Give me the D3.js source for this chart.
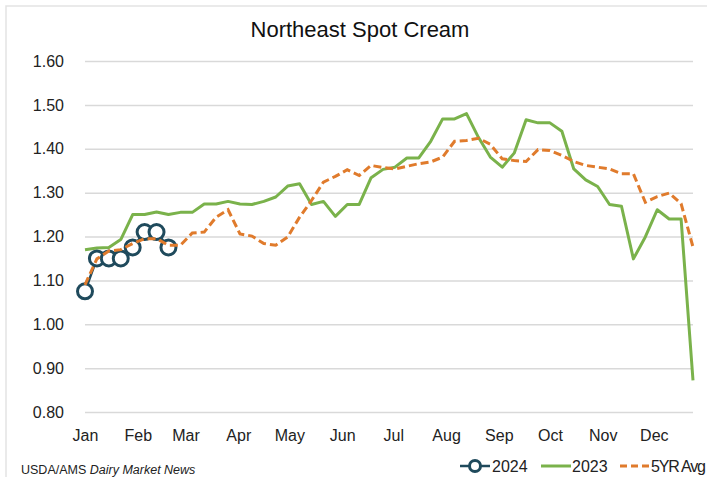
<!DOCTYPE html>
<html>
<head>
<meta charset="utf-8">
<script src="https://cdn.jsdelivr.net/npm/d3@7"></script>
<style>
  body { margin: 0; background: #fff; }
  svg { display: block; font-family: "Liberation Sans", Arial, sans-serif; }
</style>
</head>
<body>
<script>
var width = 707,
    height = 477,
    plotLeft = 85, plotRight = 693,
    plotTop = 61, plotBottom = 412;

// weekly values, week 0 = first week of Jan
var series2024 = [1.075, 1.15, 1.15, 1.15, 1.175, 1.21, 1.21, 1.175];
var series2023 = [1.170, 1.174, 1.175, 1.193, 1.250, 1.250, 1.256, 1.250, 1.255, 1.255,
                  1.274, 1.274, 1.280, 1.274, 1.273, 1.280, 1.290, 1.315, 1.320, 1.273,
                  1.280, 1.246, 1.273, 1.273, 1.334, 1.353, 1.358, 1.379, 1.379, 1.417,
                  1.468, 1.468, 1.480, 1.426, 1.381, 1.358, 1.390, 1.466, 1.459, 1.459,
                  1.440, 1.354, 1.329, 1.314, 1.273, 1.269, 1.149, 1.199, 1.261, 1.240,
                  1.240, 0.872];
var series5yr = [1.090, 1.149, 1.167, 1.170, 1.184, 1.195, 1.195, 1.180, 1.180, 1.208,
                 1.210, 1.244, 1.261, 1.206, 1.201, 1.184, 1.180, 1.199, 1.244, 1.282,
                 1.324, 1.337, 1.352, 1.339, 1.362, 1.357, 1.354, 1.360, 1.366, 1.370,
                 1.381, 1.417, 1.419, 1.424, 1.410, 1.377, 1.373, 1.371, 1.398, 1.396,
                 1.385, 1.371, 1.362, 1.358, 1.354, 1.343, 1.343, 1.278, 1.291, 1.299,
                 1.275, 1.176];
var yTicks = [0.80, 0.90, 1.00, 1.10, 1.20, 1.30, 1.40, 1.50, 1.60];
var legendNames = ["2024", "2023", "5YR Avg"];

var c2024 = "#1f4a5c", c2023 = "#7ab24b", c5yr = "#e07b2c";

var start = new Date(2023, 0, 1);
function weekDate(d, i) { return d3.timeDay.offset(start, 7 * i); }

var x = d3.scaleTime()
    .domain([start, d3.timeDay.offset(start, 7 * 51)])
    .range([plotLeft, plotRight]);

var y = d3.scaleLinear()
    .domain([0.8, 1.6])
    .range([plotBottom, plotTop]);

var svg = d3.select("body").append("svg")
    .attr("width", width)
    .attr("height", height);

// chart frame
svg.append("rect")
    .attr("x", 6).attr("y", 6)
    .attr("width", width + 10).attr("height", height + 10)
    .attr("fill", "none")
    .attr("stroke", "#e3e3e3")
    .attr("stroke-width", 1.5);

svg.append("text")
    .attr("x", 360).attr("y", 37)
    .attr("text-anchor", "middle")
    .attr("font-size", 22)
    .attr("fill", "#111")
    .text("Northeast Spot Cream");

var yAxis = svg.append("g")
    .attr("transform", "translate(" + plotLeft + ",0)")
    .call(d3.axisLeft(y)
        .tickValues(yTicks)
        .tickSize(-(plotRight - plotLeft))
        .tickPadding(21)
        .tickFormat(d3.format(".2f")));
yAxis.select(".domain").remove();
yAxis.selectAll("line").attr("stroke", "#d9d9d9").attr("stroke-width", 1.5);
yAxis.selectAll("text")
    .attr("font-size", 16)
    .attr("fill", "#222")
    .attr("font-family", "Liberation Sans, Arial, sans-serif");

var xAxis = svg.append("g")
    .attr("transform", "translate(0," + plotBottom + ")")
    .call(d3.axisBottom(x)
        .ticks(d3.timeMonth.every(1))
        .tickSize(0)
        .tickFormat(d3.timeFormat("%b")));
xAxis.select(".domain").remove();
xAxis.selectAll("text")
    .attr("y", 29).attr("dy", 0)
    .attr("font-size", 16)
    .attr("fill", "#222")
    .attr("font-family", "Liberation Sans, Arial, sans-serif");

var line = d3.line()
    .x(function(d, i) { return x(weekDate(d, i)); })
    .y(function(d) { return y(d); });

svg.append("path")
    .datum(series2023)
    .attr("fill", "none")
    .attr("stroke", c2023)
    .attr("stroke-width", 3)
    .attr("stroke-linejoin", "round")
    .attr("d", line);

svg.append("path")
    .datum(series2024)
    .attr("fill", "none")
    .attr("stroke", c2024)
    .attr("stroke-width", 2.5)
    .attr("d", line);

svg.selectAll(".dot")
    .data(series2024)
  .enter().append("circle")
    .attr("class", "dot")
    .attr("cx", function(d, i) { return x(weekDate(d, i)); })
    .attr("cy", function(d) { return y(d); })
    .attr("r", 7.5)
    .attr("fill", "#fff")
    .attr("stroke", c2024)
    .attr("stroke-width", 3);

// 5-year average sits on top, as in the original
svg.append("path")
    .datum(series5yr)
    .attr("fill", "none")
    .attr("stroke", c5yr)
    .attr("stroke-width", 3)
    .attr("stroke-dasharray", "8,4")
    .attr("d", line);

// source note
var src = svg.append("text")
    .attr("x", 21).attr("y", 474)
    .attr("font-size", 12.5)
    .attr("fill", "#222");
src.append("tspan").text("USDA/AMS ");
src.append("tspan").attr("font-style", "italic").text("Dairy Market News");

// legend
var lg = svg.append("g").attr("font-size", 16).attr("fill", "#222");
var ly = 466;
lg.append("line").attr("x1", 460).attr("x2", 490).attr("y1", ly).attr("y2", ly)
    .attr("stroke", c2024).attr("stroke-width", 2.5);
lg.append("circle").attr("cx", 475).attr("cy", ly).attr("r", 5.5)
    .attr("fill", "#fff").attr("stroke", c2024).attr("stroke-width", 3);
lg.append("text").attr("x", 492).attr("y", ly + 6).text(legendNames[0]);
lg.append("line").attr("x1", 541).attr("x2", 571).attr("y1", ly).attr("y2", ly)
    .attr("stroke", c2023).attr("stroke-width", 3);
lg.append("text").attr("x", 572).attr("y", ly + 6).text(legendNames[1]);
lg.append("line").attr("x1", 620).attr("x2", 650).attr("y1", ly).attr("y2", ly)
    .attr("stroke", c5yr).attr("stroke-width", 3).attr("stroke-dasharray", "7,4");
lg.append("text").attr("x", 651).attr("y", ly + 6).attr("textLength", 55).text(legendNames[2]);
</script>
</body>
</html>
